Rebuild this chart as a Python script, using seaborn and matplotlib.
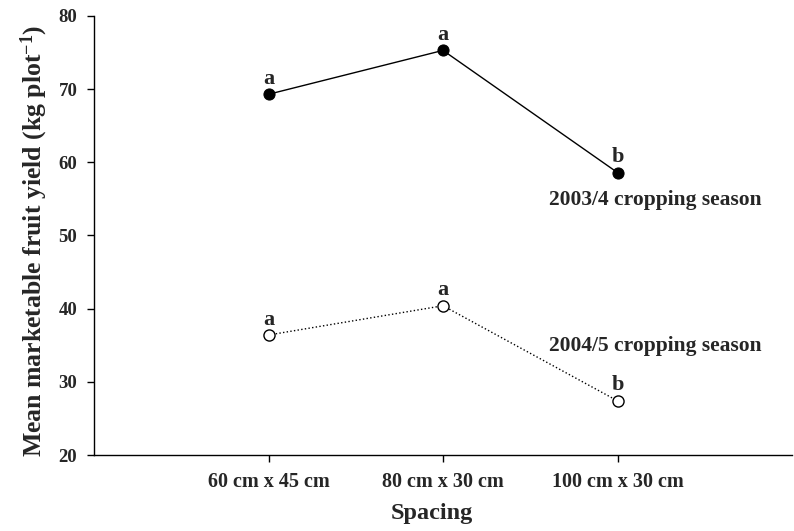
import matplotlib
matplotlib.use("Agg")
import matplotlib.pyplot as plt
import seaborn as sns
import pandas as pd

spacing = ["60 cm x 45 cm", "80 cm x 30 cm", "100 cm x 30 cm"]
yield_2003 = [69.3, 75.3, 58.6]
yield_2004 = [36.4, 40.4, 27.4]
letters_2003 = ["a", "a", "b"]
letters_2004 = ["a", "a", "b"]
season_labels = ["2003/4 cropping season", "2004/5 cropping season"]

sns.set_style("ticks")
plt.rcParams["font.family"] = ["Liberation Serif", "DejaVu Serif"]
plt.rcParams["font.weight"] = "bold"
plt.rcParams["mathtext.fontset"] = "custom"
plt.rcParams["mathtext.rm"] = "Liberation Serif:bold"
plt.rcParams["mathtext.bf"] = "Liberation Serif:bold"
plt.rcParams["mathtext.it"] = "Liberation Serif:bold"

df1 = pd.DataFrame({"Spacing": spacing, "Yield": yield_2003})
df2 = pd.DataFrame({"Spacing": spacing, "Yield": yield_2004})

fig = plt.figure(figsize=(7.94, 5.31), dpi=100)
ax = fig.add_axes([94/794, 76/531, 698/794, 439/531])

sns.lineplot(data=df1, x="Spacing", y="Yield", ax=ax, color="black", lw=1,
             marker="o", markersize=8, markerfacecolor="black",
             markeredgecolor="black", sort=False)
sns.lineplot(data=df2, x="Spacing", y="Yield", ax=ax, color="black", lw=1,
             linestyle=":", marker="o", markersize=8, markerfacecolor="white",
             markeredgecolor="black", markeredgewidth=1, sort=False)

for i, (v, l) in enumerate(zip(yield_2003, letters_2003)):
    ax.annotate(l, (i, v), xytext=(0, 7.5), textcoords="offset points",
                ha="center", va="baseline", fontsize=16, fontweight="bold")
for i, (v, l) in enumerate(zip(yield_2004, letters_2004)):
    ax.annotate(l, (i, v), xytext=(0, 7.5), textcoords="offset points",
                ha="center", va="baseline", fontsize=16, fontweight="bold")

ax.text(1.608, 54.2, season_labels[0], ha="left", va="baseline", fontsize=15.5, fontweight="bold")
ax.text(1.608, 34.2, season_labels[1], ha="left", va="baseline", fontsize=15.5, fontweight="bold")

ax.set_xlim(-1, 3)
ax.set_ylim(20, 80)
ax.set_yticks([20, 30, 40, 50, 60, 70, 80])
ax.set_xticks(range(len(spacing)))
ax.set_xticklabels(spacing)
ax.tick_params(direction="out", length=5, width=1, color="black", pad=7)
ax.tick_params(axis="x", labelsize=14.5)
ax.tick_params(axis="y", labelsize=13.5)
for lab in ax.get_xticklabels() + ax.get_yticklabels():
    lab.set_fontweight("bold")
ax.set_xlabel("Spacing", fontsize=17.5, fontweight="bold")
ax.xaxis.set_label_coords((432 - 94) / 698, -0.110)
ax.xaxis.label.set_va("top")
ax.set_ylabel(r"Mean marketable fruit yield (kg plot$^{-1}$)", fontsize=18.5,
              fontweight="bold")
ax.yaxis.set_label_coords(-0.063, 0.487)
sns.despine(ax=ax)
for s in ["left", "bottom"]:
    ax.spines[s].set_linewidth(1)
    ax.spines[s].set_color("black")

fig.savefig("out.png", dpi=100)
